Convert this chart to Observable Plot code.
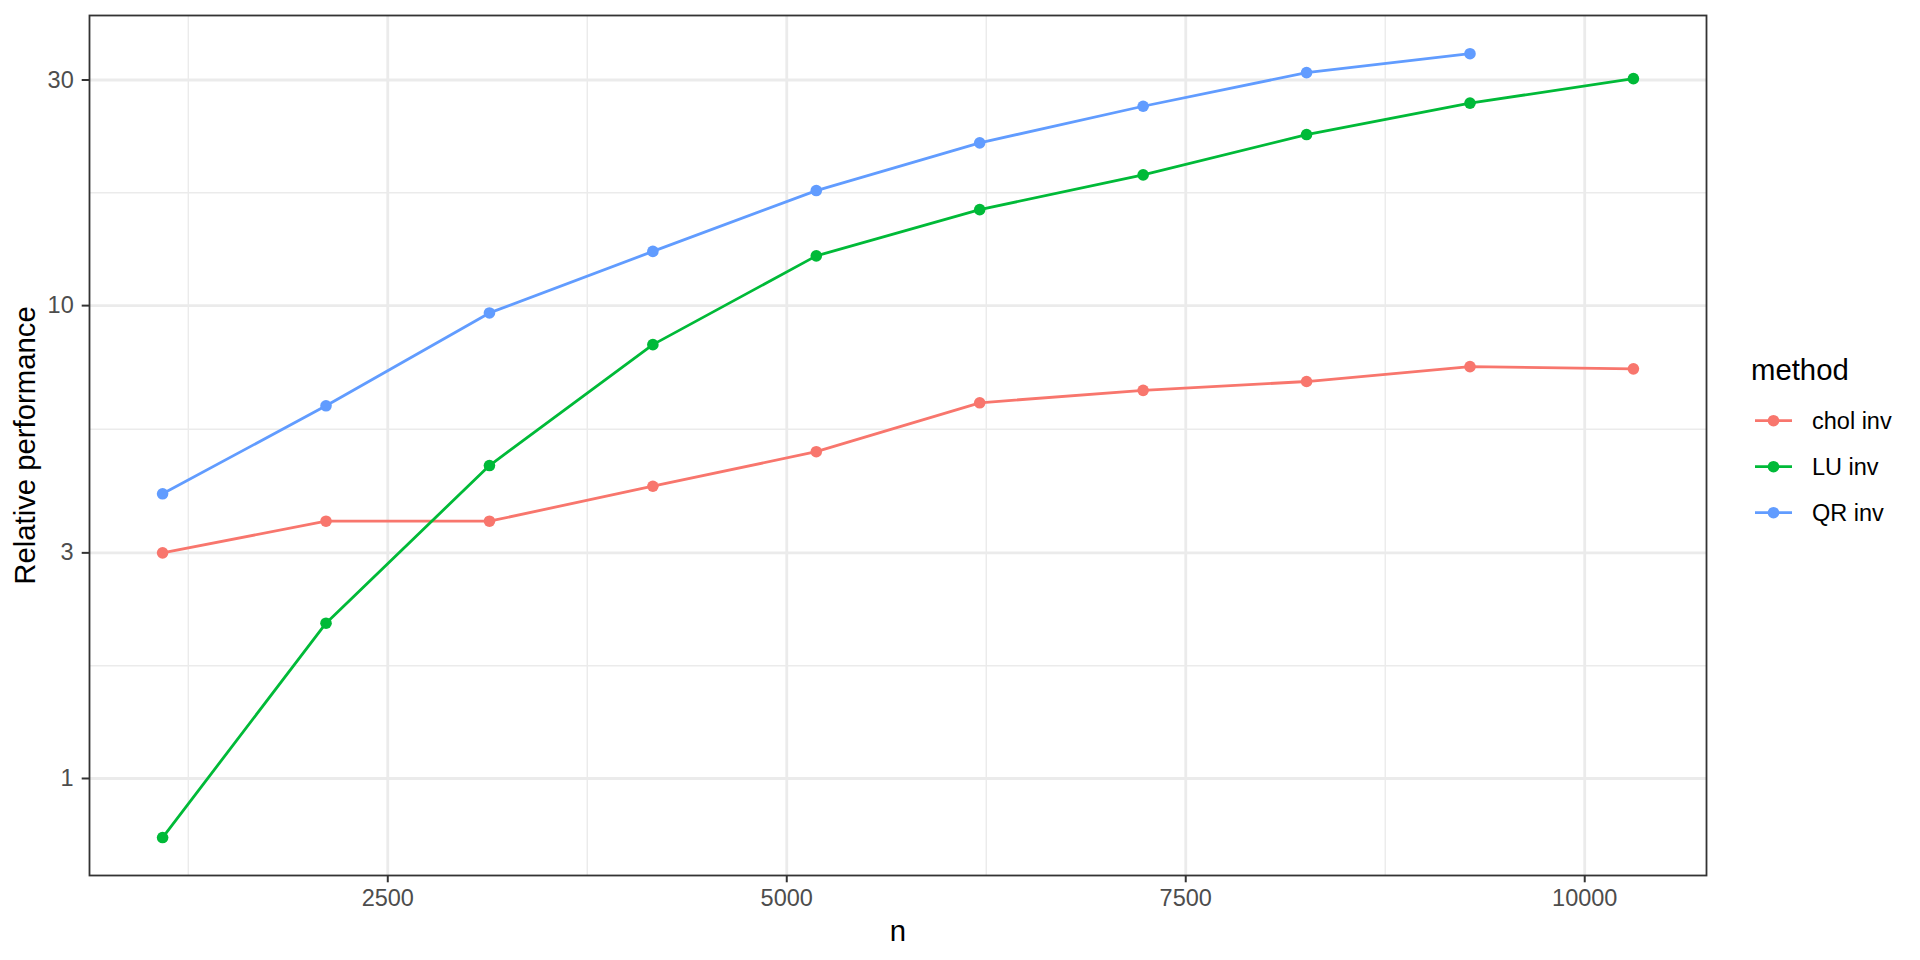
<!DOCTYPE html>
<html>
<head>
<meta charset="utf-8">
<script src="https://cdn.jsdelivr.net/npm/d3@7"></script>
<script src="https://cdn.jsdelivr.net/npm/@observablehq/plot@0.6"></script>
<style>
  html, body { margin: 0; padding: 0; background: #fff; }
  #wrap { position: relative; width: 1920px; height: 960px; font-family: "Liberation Sans", Arial, sans-serif; }
  #legend { position: absolute; left: 0; top: 0; }
</style>
</head>
<body>
<div id="wrap"></div>
<script>
// ---- data ----
const nValues = [1089, 2113, 3137, 4161, 5185, 6209, 7233, 8257, 9281, 10305];
const cholInv = [3.00, 3.50, 3.50, 4.15, 4.91, 6.23, 6.62, 6.91, 7.43, 7.35];
const luInv   = [0.750, 2.13, 4.59, 8.27, 12.74, 15.96, 18.90, 23.0, 26.8, 30.2];
const qrInv   = [4.00, 6.14, 9.65, 13.02, 17.51, 22.09, 26.4, 31.1, 34.1];
const methods = ["chol inv", "LU inv", "QR inv"];
const colors  = ["#F8766D", "#00BA38", "#619CFF"];
const yTicks = [1, 3, 10, 30];
const yMinor = [1.732, 5.477, 17.32];
const xTicks = [2500, 5000, 7500, 10000];
const xMinor = [1250, 3750, 6250, 8750];

const series = [cholInv, luInv, qrInv];
const rows = [];
series.forEach((vals, k) => vals.forEach((v, i) => rows.push({n: nValues[i], value: v, method: methods[k]})));

const chart = Plot.plot({
  width: 1920,
  height: 960,
  marginLeft: 89,
  marginRight: 214,
  marginTop: 15,
  marginBottom: 85,
  style: {fontFamily: '"Liberation Sans", Arial, sans-serif', background: "#fff"},
  x: {type: "linear", domain: [631, 10763], nice: false},
  y: {type: "log", domain: [0.6235, 41.07], nice: false},
  color: {domain: methods, range: colors},
  marks: [
    Plot.ruleY(yMinor, {stroke: "#EBEBEB", strokeWidth: 1.4}),
    Plot.ruleX(xMinor, {stroke: "#EBEBEB", strokeWidth: 1.4}),
    Plot.ruleY(yTicks, {stroke: "#EBEBEB", strokeWidth: 2.8}),
    Plot.ruleX(xTicks, {stroke: "#EBEBEB", strokeWidth: 2.8}),
    Plot.line(rows, {x: "n", y: "value", z: "method", stroke: "method", strokeWidth: 2.8, strokeLinejoin: "round", strokeLinecap: "butt"}),
    Plot.dot(rows, {x: "n", y: "value", fill: "method", r: 5.8, stroke: null}),
    Plot.frame({stroke: "#333333", strokeWidth: 1.8}),
    Plot.axisX({ticks: xTicks, tickFormat: d => String(d), tickSize: 7.3, tickPadding: 7, fontSize: 23.5,
      stroke: "#333333", strokeWidth: 2, color: "#4D4D4D",
      label: null}),
    Plot.axisY({ticks: yTicks, tickFormat: d => String(d), tickSize: 7.3, tickPadding: 8.5, fontSize: 23.5,
      stroke: "#333333", strokeWidth: 2, color: "#4D4D4D", label: null}),
    Plot.text(["n"], {frameAnchor: "bottom", dy: 65, fontSize: 29.3, fill: "#000", lineAnchor: "bottom", text: d => d}),
    Plot.text(["Relative performance"], {frameAnchor: "left", dx: -64, rotate: -90, textAnchor: "middle", fontSize: 29.3, fill: "#000", text: d => d})
  ]
});
document.getElementById("wrap").appendChild(chart);

// ---- legend ----
const svgL = d3.select("#wrap").append("svg")
  .attr("id", "legend").attr("width", 1920).attr("height", 960)
  .style("font-family", '"Liberation Sans", Arial, sans-serif');
svgL.append("text").attr("x", 1751).attr("y", 380).attr("font-size", 29.3).attr("fill", "#000").text("method");
methods.forEach((m, i) => {
  const cy = 420.7 + i * 46;
  const g = svgL.append("g");
  g.append("line").attr("x1", 1755).attr("x2", 1792).attr("y1", cy).attr("y2", cy)
    .attr("stroke", colors[i]).attr("stroke-width", 2.8);
  g.append("circle").attr("cx", 1773.5).attr("cy", cy).attr("r", 5.8).attr("fill", colors[i]);
  g.append("text").attr("x", 1812).attr("y", cy).attr("dy", "0.35em").attr("font-size", 23.5).attr("fill", "#000").text(m);
});
</script>
</body>
</html>
